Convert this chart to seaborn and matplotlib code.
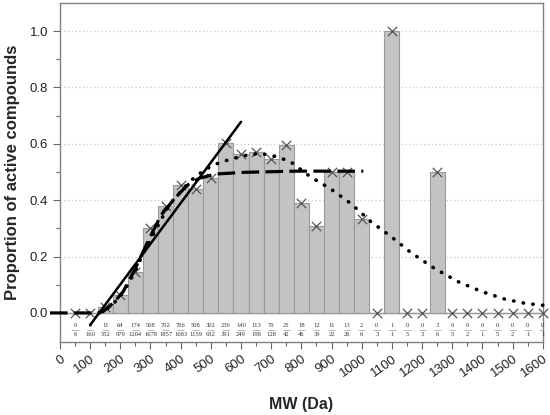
import numpy as np
import seaborn as sns
import matplotlib.pyplot as plt
from matplotlib.ticker import FixedLocator, MultipleLocator

# -------------------------------
# binned MW data: active / total compounds per 50 Da bin
mw_bins = list(range(50, 1650, 50))
n_active = [0, 0, 11, 64, 174, 508, 702, 766, 508, 302, 236, 140, 113, 70, 25, 18,
            12, 11, 13, 2, 0, 1, 0, 0, 3, 0, 0, 0, 0, 0, 0, 0]
n_total = [6, 160, 552, 979, 1204, 1678, 1857, 1683, 1159, 632, 391, 249, 198, 128, 42, 46,
           39, 22, 26, 6, 3, 1, 5, 3, 6, 5, 2, 1, 5, 2, 1, 1]

# fitted curves
# linear fit
lin_mw = [100, 600]
lin_p = [-0.043, 0.678]
# saturating fit (dashed)
sat_mw = [-33, 125, 143, 176, 209, 247, 291, 335, 385, 423, 462, 517, 616, 781, 1005]
sat_p = [0.0, 0.0, 0.005, 0.034, 0.075, 0.152, 0.253, 0.347, 0.412, 0.454, 0.478, 0.493,
         0.499, 0.503, 0.503]
# bell shaped fit (dotted)
bell_mw = [130, 150, 175, 200, 225, 250, 275, 300, 325, 350, 375, 400, 425, 450, 480, 508,
           563, 619, 663, 719, 763, 830, 897, 963, 1030, 1097, 1163, 1241, 1319, 1397,
           1474, 1541, 1610]
bell_p = [0.0, 0.01, 0.03, 0.06, 0.10, 0.15, 0.21, 0.26, 0.31, 0.36, 0.40, 0.43, 0.46,
          0.485, 0.507, 0.525, 0.545, 0.560, 0.566, 0.554, 0.537, 0.483, 0.44, 0.389,
          0.324, 0.271, 0.214, 0.158, 0.111, 0.076, 0.049, 0.034, 0.026]

mw = np.array(mw_bins)
prop = np.array(n_active) / np.array(n_total)

sns.set_style("ticks")
plt.rcParams['font.family'] = ['Liberation Sans', 'DejaVu Sans']

fig = plt.figure(figsize=(5.5, 4.15), dpi=100)
ax = fig.add_axes([0.109, 0.176, 0.878, 0.817])

# grid + baseline
for yv in [0.2, 0.4, 0.6, 0.8, 1.0]:
    ax.axhline(yv, color='#c8c8c8', lw=0.9, ls=(0, (1, 2)), zorder=0)
ax.axhline(0, color='#8a8a8a', lw=1.0, zorder=1)

# bars
sns.barplot(x=mw, y=prop, native_scale=True, width=1.0, color='#c3c3c3',
            saturation=1, edgecolor='#9a9a9a', linewidth=0.8, ax=ax, zorder=2)

# markers on top of bars
sns.scatterplot(x=mw, y=prop, marker='x', color='#555555', s=45, linewidth=0.9,
                ax=ax, zorder=5, clip_on=False)

# fits
sns.lineplot(x=lin_mw, y=lin_p, color='black', lw=1.8, ax=ax, zorder=6)
sns.lineplot(x=sat_mw, y=sat_p, color='black', lw=2.3, ls=(0, (5.5, 2)), ax=ax,
             zorder=6, sort=False, clip_on=False)
sns.lineplot(x=bell_mw, y=bell_p, color='black', lw=2.6, ls=(0, (0.1, 2.6)),
             dash_capstyle='round', ax=ax, zorder=6, sort=False, clip_on=False)

# counts under each bin
for x, a, t in zip(mw, n_active, n_total):
    ax.text(x, -0.043, str(a), ha='center', va='center', fontsize=4.7,
            family='Liberation Serif', color='#333333')
    ax.text(x, -0.076, str(t), ha='center', va='center', fontsize=4.7,
            family='Liberation Serif', color='#333333')
ax.hlines(np.full(len(mw), -0.059), mw - 12, mw + 12, color='#9a9a9a', lw=0.5)

ax.set_xlim(0, 1600)
ax.set_ylim(-0.103, 1.1)
ax.xaxis.set_major_locator(MultipleLocator(100))
ax.xaxis.set_minor_locator(MultipleLocator(50))
ax.yaxis.set_major_locator(FixedLocator([0, 0.2, 0.4, 0.6, 0.8, 1.0]))
ax.yaxis.set_minor_locator(FixedLocator([0.1, 0.3, 0.5, 0.7, 0.9]))
ax.set_yticklabels(['0.0', '0.2', '0.4', '0.6', '0.8', '1.0'])
ax.set_xticks(range(0, 1700, 100))
ax.set_xticklabels([str(v) for v in range(0, 1700, 100)], rotation=35, ha='right',
                   rotation_mode='anchor')
ax.tick_params(axis='both', which='major', direction='out', length=5, width=0.8,
               color='#666666', labelsize=9.5, labelcolor='#222222')
ax.tick_params(axis='both', which='minor', direction='out', length=3, width=0.8,
               color='#666666')
ax.tick_params(axis='x', pad=3)

for s in ax.spines.values():
    s.set_color('#808080')
    s.set_linewidth(1.0)

ax.set_xlabel("MW (Da)", fontsize=11.5, fontweight='bold', labelpad=12)
ax.set_ylabel("Proportion of active compounds", fontsize=12, fontweight='bold',
              labelpad=7)

fig.savefig("out.png", dpi=100)
plt.close()
